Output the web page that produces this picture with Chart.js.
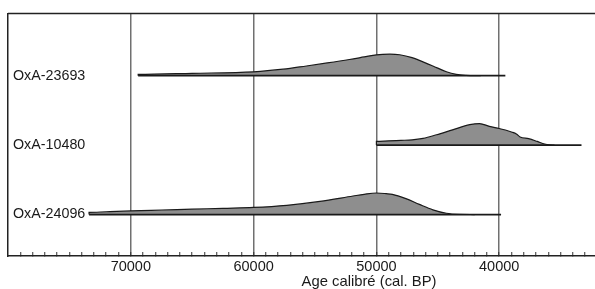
<!DOCTYPE html>
<html>
<head>
<meta charset="utf-8">
<script src="https://cdn.jsdelivr.net/npm/chart.js@4"></script>
<style>
  html, body { margin: 0; padding: 0; background: #fff; }
  #wrap { width: 595px; height: 289px; }
</style>
</head>
<body>
<div id="wrap"><canvas id="chart"></canvas></div>
<script>
// samples, top to bottom as in the figure
const sampleNames = ['OxA-23693', 'OxA-10480', 'OxA-24096'];

// calibrated ages (cal BP) and relative probability
const ages23693 = [69400, 65000, 60000, 57600, 55700, 54000, 52200, 51000, 50000, 48900, 48100, 47100, 46500, 45400, 44300, 43500, 42700, 41500];
const prob23693 = [0.06, 0.11, 0.18, 0.3, 0.45, 0.59, 0.75, 0.87, 0.97, 1.0, 0.97, 0.84, 0.71, 0.45, 0.18, 0.06, 0.015, 0];
const range23693 = [69400, 39500];

const ages10480 = [50000, 49000, 48000, 47100, 46200, 45100, 43800, 42400, 41600, 40800, 40000, 39500, 39000, 38600, 38300, 37600, 36900, 36300, 35900, 35500];
const prob10480 = [0.17, 0.2, 0.22, 0.24, 0.31, 0.48, 0.71, 0.95, 1.0, 0.87, 0.77, 0.7, 0.61, 0.52, 0.38, 0.3, 0.17, 0.05, 0.01, 0];
const range10480 = [50000, 33300];

const ages24096 = [73400, 72000, 70000, 67500, 65000, 62500, 60000, 57300, 54600, 51900, 51000, 50000, 49200, 48700, 47600, 46500, 45400, 44300, 43250, 42000];
const prob24096 = [0.1, 0.13, 0.17, 0.21, 0.25, 0.29, 0.33, 0.43, 0.61, 0.86, 0.94, 1.0, 0.97, 0.94, 0.74, 0.47, 0.22, 0.06, 0.01, 0];
const range24096 = [73400, 39850];

const ageSeries = [ages23693, ages10480, ages24096];
const probSeries = [prob23693, prob10480, prob24096];
const ranges = [range23693, range10480, range24096];

// x axis: minor ticks every 1000 years, labels every 10000
const axisMin = 32200;
const axisMax = 80000;
const minorStep = 1000;
const majorStep = 10000;
const axisTitle = 'Age calibré (cal. BP)';

const PEAK = 0.31; // height of a distribution peak, in row units
const FONT = '"Liberation Sans", Arial, sans-serif';
Chart.defaults.font.family = FONT;

const datasets = [];
sampleNames.forEach((name, i) => {
    const row = sampleNames.length - 1 - i;
    const ages = ageSeries[i];
    const probs = probSeries[i];
    const pts = [{ x: ages[0], y: row }].concat(ages.map((a, k) => ({ x: a, y: row + probs[k] * PEAK })));
    datasets.push({
        label: name,
        data: pts,
        borderColor: '#1a1a1a',
        borderWidth: 1.2,
        backgroundColor: '#8e8e8e',
        fill: { value: row },
        pointRadius: 0,
        cubicInterpolationMode: 'monotone',
        order: 1
    });
    datasets.push({
        label: name + ' range',
        data: [{ x: ranges[i][0], y: row }, { x: ranges[i][1], y: row }],
        borderColor: '#1a1a1a',
        borderWidth: 1.8,
        fill: false,
        pointRadius: 0,
        order: 0
    });
});

// top frame line and shifted axis title
const framePlugin = {
    id: 'frame',
    afterDraw(chart) {
        const { ctx, chartArea } = chart;
        ctx.save();
        ctx.strokeStyle = '#222';
        ctx.lineWidth = 1.5;
        ctx.beginPath();
        ctx.moveTo(chartArea.left, chartArea.top);
        ctx.lineTo(chart.width, chartArea.top);
        ctx.stroke();
        ctx.fillStyle = '#1a1a1a';
        ctx.font = '14.8px ' + FONT;
        ctx.textAlign = 'center';
        ctx.textBaseline = 'middle';
        ctx.fillText(axisTitle, 369, 282);
        ctx.restore();
    }
};

new Chart(document.getElementById('chart').getContext('2d'), {
    type: 'line',
    data: { datasets },
    plugins: [framePlugin],
    options: {
        responsive: true,
        maintainAspectRatio: false,
        animation: false,
        layout: { padding: { top: 12, left: 8, right: 0, bottom: 0 } },
        plugins: {
            legend: { display: false },
            tooltip: { enabled: false }
        },
        scales: {
            x: {
                type: 'linear',
                reverse: true,
                min: axisMin,
                max: axisMax,
                z: 1,
                afterBuildTicks: s => {
                    const t = [];
                    for (let v = Math.ceil(axisMin / minorStep) * minorStep; v < axisMax; v += minorStep) t.push({ value: v });
                    s.ticks = t;
                },
                afterFit: s => { s.height = 33; },
                border: { display: true, color: '#222', width: 1.5 },
                grid: {
                    color: c => (c.tick && c.tick.value % majorStep === 0) ? '#707070' : 'rgba(0,0,0,0)',
                    lineWidth: 1.5,
                    tickLength: -4,
                    tickColor: '#333',
                    tickWidth: 1
                },
                ticks: {
                    autoSkip: false,
                    maxRotation: 0,
                    padding: 6,
                    color: '#1a1a1a',
                    font: { size: 14.5 },
                    callback: v => v % majorStep === 0 ? String(v) : ''
                }
            },
            y: {
                type: 'linear',
                min: -0.597,
                max: 2.894,
                afterFit: s => { s.width = 0; },
                afterBuildTicks: s => { s.ticks = sampleNames.map((n, i) => ({ value: i })); },
                border: { display: true, color: '#222', width: 1.5 },
                grid: { display: false },
                ticks: {
                    mirror: true,
                    padding: 5,
                    color: '#1a1a1a',
                    font: { size: 14.3 },
                    callback: v => sampleNames[sampleNames.length - 1 - v]
                }
            }
        }
    }
});
</script>
</body>
</html>
